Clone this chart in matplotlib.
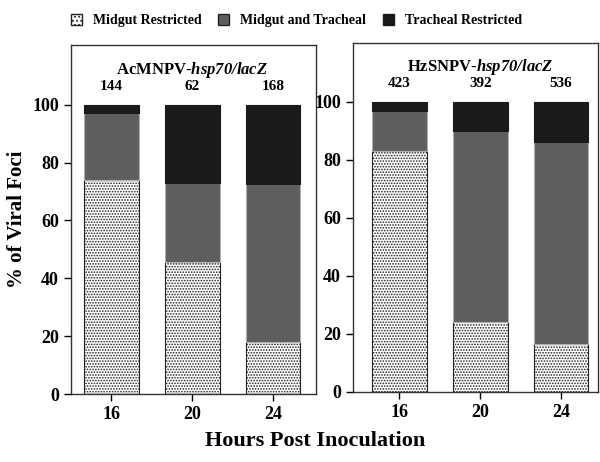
import numpy as np
import matplotlib.pyplot as plt
from matplotlib.patches import Patch

plt.rcParams['font.family'] = 'Liberation Serif'
plt.rcParams['font.weight'] = 'bold'
plt.rcParams['hatch.color'] = '#555555'
plt.rcParams['hatch.linewidth'] = 0.8
plt.rcParams['mathtext.fontset'] = 'custom'
plt.rcParams['mathtext.bfit'] = 'Liberation Serif:italic:bold'

hours = [16, 20, 24]
hour_labels = ['16', '20', '24']

# AcMNPV-hsp70/lacZ
ac_midgut = [74, 45.5, 18]
ac_both = [23, 27.5, 54.5]
ac_trach = [3, 27, 27.5]
ac_counts = ['144', '62', '168']

# HzSNPV-hsp70/lacZ
hz_midgut = [83, 24, 16.5]
hz_both = [14, 66, 69.5]
hz_trach = [3, 10, 14]
hz_counts = ['423', '392', '536']

series_names = ['Midgut Restricted', 'Midgut and Tracheal', 'Tracheal Restricted']

fig = plt.figure(figsize=(6, 4.62), dpi=100)
ax1 = fig.add_axes([0.118, 0.147, 0.408, 0.756])
ax2 = fig.add_axes([0.588, 0.152, 0.408, 0.755])

def draw(ax, mid, both, tr, counts, name, xlim, ylim):
    w = 2.7
    mid = np.array(mid)
    both = np.array(both)
    tr = np.array(tr)
    ax.bar(hours, mid, w, color='white', edgecolor='#222222', hatch='......', linewidth=0.8)
    ax.bar(hours, both, w, bottom=mid, color='#5e5e5e', edgecolor='#b0b0b0', linewidth=0.8)
    ax.bar(hours, tr, w, bottom=mid + both, color='#1a1a1a', edgecolor='#1a1a1a', linewidth=0.8)
    tops = mid + both + tr
    for x, t, c in zip(hours, tops, counts):
        ax.text(x, t + 4, c, ha='center', va='bottom', fontsize=11, fontweight='bold')
    ax.text(20, 112, name, ha='center', va='center', fontsize=12, fontweight='bold')
    ax.set_xlim(*xlim)
    ax.set_ylim(*ylim)
    ax.set_xticks(hours)
    ax.set_xticklabels(hour_labels)
    ax.set_yticks([0, 20, 40, 60, 80, 100])
    ax.tick_params(direction='out', labelsize=13, length=5, width=1)
    for lab in ax.get_xticklabels() + ax.get_yticklabels():
        lab.set_fontweight('bold')
    for s in ax.spines.values():
        s.set_linewidth(1)
        s.set_color('#333333')

draw(ax1, ac_midgut, ac_both, ac_trach, ac_counts, r'AcMNPV-$\mathbfit{hsp70/lacZ}$', (14, 26.1), (0, 120.7))
draw(ax2, hz_midgut, hz_both, hz_trach, hz_counts, r'HzSNPV-$\mathbfit{hsp70/lacZ}$', (13.7, 25.8), (0, 120.3))

ax1.set_ylabel('% of Viral Foci', fontsize=15, fontweight='bold', labelpad=4)
fig.text(0.525, 0.045, 'Hours Post Inoculation', ha='center', va='center', fontsize=16, fontweight='bold')

handles = [Patch(facecolor='white', edgecolor='#222222', hatch='....', label=series_names[0]),
           Patch(facecolor='#5e5e5e', edgecolor='#222222', label=series_names[1]),
           Patch(facecolor='#1a1a1a', edgecolor='#1a1a1a', label=series_names[2])]
fig.legend(handles=handles, loc='center', bbox_to_anchor=(0.494, 0.955), ncol=3, frameon=False,
           fontsize=10, handlelength=0.8, handleheight=0.8, columnspacing=1.2, handletextpad=0.8)

fig.savefig('out.png', dpi=100)
